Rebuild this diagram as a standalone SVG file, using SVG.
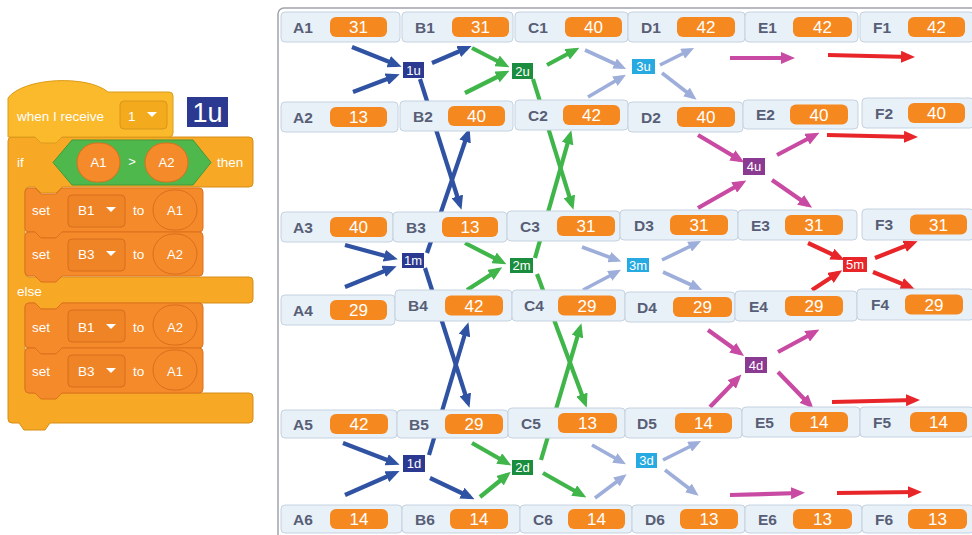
<svg xmlns="http://www.w3.org/2000/svg" width="972" height="535" viewBox="0 0 972 535">
<style>
  text { font-family: "Liberation Sans", Arial, sans-serif; }
  .cell { fill: #e8f0f8; stroke: #c6d2e0; stroke-width: 1; }
  .lbl { font-size: 15.5px; font-weight: bold; fill: #575e75; }
  .pill { fill: #f5891f; }
  .val { font-size: 17px; fill: #ffffff; text-anchor: middle; }
  .ln { fill: none; stroke-width: 4.2; stroke-linecap: butt; }
  .b { stroke: #2f52a3; marker-end: url(#ah-b); }
  .g { stroke: #3fb54a; marker-end: url(#ah-g); }
  .lb { stroke: #9eaedb; stroke-width: 3.6; marker-end: url(#ah-lb); }
  .m { stroke: #c84aa2; marker-end: url(#ah-m); }
  .r { stroke: #e8262a; marker-end: url(#ah-r); }
  .tag { font-size: 13px; fill: #ffffff; text-anchor: middle; }
  .blk { font-size: 13.5px; fill: #ffffff; }
  .hat { fill: #fbb92c; stroke: #dc9c1b; stroke-width: 1; }
  .ctl { fill: #f7a824; stroke: #d88d18; stroke-width: 1; }
  .var { fill: #f58a2a; stroke: #dc701c; stroke-width: 1; }
  .dd { fill: #ef8426; stroke: #d66e1d; stroke-width: 1; }
  .ov { fill: #f58a2a; stroke: #da6f1d; stroke-width: 1; }
</style>
<defs>
  <marker id="ah-b" viewBox="0 0 14 12" markerWidth="14" markerHeight="12" refX="9" refY="6" orient="auto" markerUnits="userSpaceOnUse"><path d="M0,0 L14,6 L0,12 Z" fill="#2f52a3"/></marker>
  <marker id="ah-g" viewBox="0 0 14 12" markerWidth="14" markerHeight="12" refX="9" refY="6" orient="auto" markerUnits="userSpaceOnUse"><path d="M0,0 L14,6 L0,12 Z" fill="#3fb54a"/></marker>
  <marker id="ah-lb" viewBox="0 0 14 12" markerWidth="13" markerHeight="11" refX="9" refY="6" orient="auto" markerUnits="userSpaceOnUse"><path d="M0,0 L14,6 L0,12 Z" fill="#9eaedb"/></marker>
  <marker id="ah-m" viewBox="0 0 14 12" markerWidth="14" markerHeight="12" refX="9" refY="6" orient="auto" markerUnits="userSpaceOnUse"><path d="M0,0 L14,6 L0,12 Z" fill="#c84aa2"/></marker>
  <marker id="ah-r" viewBox="0 0 14 12" markerWidth="14" markerHeight="12" refX="9" refY="6" orient="auto" markerUnits="userSpaceOnUse"><path d="M0,0 L14,6 L0,12 Z" fill="#e8262a"/></marker>
</defs>
<rect width="972" height="535" fill="#ffffff"/>

<!-- Scratch script -->
<g id="script">
  <!-- if / else C-block -->
  <path class="ctl" d="M8,141 Q8,137 12,137 L249,137 Q253,137 253,141 L253,183 Q253,187 249,187 L62,187 L56,193 L41,193 L35,187 L29,187 Q25,187 25,191 L25,273 Q25,277 29,277 L249,277 Q253,277 253,281 L253,299 Q253,303 249,303 L62,303 L56,309 L41,309 L35,303 L29,303 Q25,303 25,307 L25,389 Q25,393 29,393 L249,393 Q253,393 253,397 L253,419 Q253,423 249,423 L50,423 L45,430 L24,430 L19,423 L12,423 Q8,423 8,419 Z"/>
  <!-- hat block -->
  <g id="hat">
    <path class="hat" d="M8,137 L8,98 C24,77 88,75 108,92 L169,92 Q173,92 173,96 L173,133 Q173,137 169,137 L62,137 L56,143 L41,143 L35,137 Z"/>
    <text class="blk" x="17" y="121">when I receive</text>
    <rect x="120" y="101" width="47" height="28" rx="4" fill="#f3ab1d" stroke="#d9961b"/>
    <text class="blk" x="128" y="121">1</text>
    <path d="M147,112 L157,112 L152,117 Z" fill="#ffffff"/>
  </g>
  <g id="tag-1u-big">
    <rect x="187" y="97" width="41" height="30" fill="#2b3990"/>
    <text x="207.5" y="122" font-size="27" fill="#ffffff" text-anchor="middle">1u</text>
  </g>
  <!-- if header -->
  <text class="blk" x="17" y="167">if</text>
  <path d="M53,162.5 L72,140 L193,140 L211,162.5 L193,185 L72,185 Z" fill="#4fb84d" stroke="#3e9a3c"/>
  <rect class="ov" x="77" y="143" width="43" height="39" rx="19.5"/>
  <text class="tag" x="98.5" y="167" font-size="13.5">A1</text>
  <text class="tag" x="132" y="166" font-size="12">&gt;</text>
  <rect class="ov" x="145" y="143" width="43" height="39" rx="19.5"/>
  <text class="tag" x="166.5" y="167" font-size="13.5">A2</text>
  <text class="blk" x="217" y="167">then</text>
  <text class="blk" x="17" y="296">else</text>

  <!-- set B1 to A1 -->
  <g id="set1">
    <path class="var" d="M25,192 Q25,188 29,188 L35,188 L41,194 L56,194 L62,188 L199,188 Q203,188 203,192 L203,228 Q203,232 199,232 L62,232 L56,238 L41,238 L35,232 L29,232 Q25,232 25,228 Z"/>
    <text class="blk" x="32" y="215">set</text>
    <rect class="dd" x="68" y="195" width="57" height="32" rx="4"/>
    <text class="blk" x="78" y="215" font-size="14">B1</text>
    <path d="M106,207 L116,207 L111,212 Z" fill="#ffffff"/>
    <text class="blk" x="133" y="215">to</text>
    <rect class="ov" x="153" y="190" width="44" height="40" rx="20"/>
    <text class="tag" x="175" y="215" font-size="14">A1</text>
  </g>
  <!-- set B3 to A2 -->
  <g id="set2">
    <path class="var" d="M25,236 Q25,232 29,232 L35,232 L41,238 L56,238 L62,232 L199,232 Q203,232 203,236 L203,272 Q203,276 199,276 L62,276 L56,282 L41,282 L35,276 L29,276 Q25,276 25,272 Z"/>
    <text class="blk" x="32" y="259">set</text>
    <rect class="dd" x="68" y="239" width="57" height="32" rx="4"/>
    <text class="blk" x="78" y="259" font-size="14">B3</text>
    <path d="M106,251 L116,251 L111,256 Z" fill="#ffffff"/>
    <text class="blk" x="133" y="259">to</text>
    <rect class="ov" x="153" y="234" width="44" height="40" rx="20"/>
    <text class="tag" x="175" y="259" font-size="14">A2</text>
  </g>
  <!-- set B1 to A2 -->
  <g id="set3">
    <path class="var" d="M25,307 Q25,303 29,303 L35,303 L41,309 L56,309 L62,303 L199,303 Q203,303 203,307 L203,344 Q203,348 199,348 L62,348 L56,354 L41,354 L35,348 L29,348 Q25,348 25,344 Z"/>
    <text class="blk" x="32" y="332">set</text>
    <rect class="dd" x="68" y="310" width="57" height="32" rx="4"/>
    <text class="blk" x="78" y="332" font-size="14">B1</text>
    <path d="M106,324 L116,324 L111,329 Z" fill="#ffffff"/>
    <text class="blk" x="133" y="332">to</text>
    <rect class="ov" x="153" y="305" width="44" height="40" rx="20"/>
    <text class="tag" x="175" y="332" font-size="14">A2</text>
  </g>
  <!-- set B3 to A1 -->
  <g id="set4">
    <path class="var" d="M25,352 Q25,348 29,348 L35,348 L41,354 L56,354 L62,348 L199,348 Q203,348 203,352 L203,389 Q203,393 199,393 L62,393 L56,399 L41,399 L35,393 L29,393 Q25,393 25,389 Z"/>
    <text class="blk" x="32" y="376">set</text>
    <rect class="dd" x="68" y="355" width="57" height="32" rx="4"/>
    <text class="blk" x="78" y="376" font-size="14">B3</text>
    <path d="M106,368 L116,368 L111,373 Z" fill="#ffffff"/>
    <text class="blk" x="133" y="376">to</text>
    <rect class="ov" x="153" y="350" width="44" height="40" rx="20"/>
    <text class="tag" x="175" y="376" font-size="14">A1</text>
  </g>
</g>

<!-- stage panel -->
<rect x="278" y="8" width="730" height="560" rx="6" fill="#ffffff" stroke="#a2a3ad" stroke-width="1.5"/>

<!-- connectors (drawn beneath the monitors) -->
<g id="connectors" class="ln">
  <!-- step 1 (blue) -->
  <line class="ln b" x1="352" y1="47" x2="397" y2="65"/>
  <line class="ln b" x1="353" y1="92" x2="395" y2="76"/>
  <line class="ln b" x1="432" y1="63" x2="467" y2="48"/>
  <line class="ln b" x1="420" y1="79" x2="460" y2="205"/>
  <line class="ln b" x1="427" y1="253" x2="468" y2="133"/>
  <line class="ln b" x1="345" y1="245" x2="393" y2="258"/>
  <line class="ln b" x1="345" y1="287" x2="392" y2="268"/>
  <line class="ln b" x1="425" y1="268" x2="468" y2="403"/>
  <line class="ln b" x1="429" y1="455" x2="467" y2="327"/>
  <line class="ln b" x1="343" y1="443" x2="395" y2="463"/>
  <line class="ln b" x1="345" y1="495" x2="395" y2="473"/>
  <line class="ln b" x1="430" y1="478" x2="470" y2="497"/>
  <!-- step 2 (green) -->
  <line class="ln g" x1="472" y1="48" x2="505" y2="65"/>
  <line class="ln g" x1="465" y1="93" x2="505" y2="73"/>
  <line class="ln g" x1="547" y1="65" x2="575" y2="50"/>
  <line class="ln g" x1="533" y1="79" x2="572" y2="205"/>
  <line class="ln g" x1="535" y1="258" x2="570" y2="135"/>
  <line class="ln g" x1="465" y1="243" x2="502" y2="262"/>
  <line class="ln g" x1="467" y1="290" x2="498" y2="270"/>
  <line class="ln g" x1="537" y1="274" x2="585" y2="403"/>
  <line class="ln g" x1="541" y1="460" x2="580" y2="328"/>
  <line class="ln g" x1="472" y1="443" x2="507" y2="463"/>
  <line class="ln g" x1="480" y1="497" x2="507" y2="475"/>
  <line class="ln g" x1="543" y1="473" x2="582" y2="495"/>
  <!-- step 3 (light blue) -->
  <line class="ln lb" x1="585" y1="50" x2="622" y2="67"/>
  <line class="ln lb" x1="588" y1="97" x2="622" y2="77"/>
  <line class="ln lb" x1="660" y1="65" x2="690" y2="50"/>
  <line class="ln lb" x1="662" y1="73" x2="693" y2="97"/>
  <line class="ln lb" x1="582" y1="247" x2="617" y2="260"/>
  <line class="ln lb" x1="583" y1="290" x2="617" y2="272"/>
  <line class="ln lb" x1="662" y1="260" x2="697" y2="243"/>
  <line class="ln lb" x1="663" y1="272" x2="698" y2="288"/>
  <line class="ln lb" x1="592" y1="445" x2="622" y2="462"/>
  <line class="ln lb" x1="595" y1="498" x2="623" y2="477"/>
  <line class="ln lb" x1="663" y1="460" x2="697" y2="443"/>
  <line class="ln lb" x1="665" y1="470" x2="695" y2="493"/>
  <!-- step 4 (magenta) -->
  <line class="ln m" x1="730" y1="58" x2="790" y2="58"/>
  <line class="ln m" x1="698" y1="135" x2="740" y2="160"/>
  <line class="ln m" x1="698" y1="208" x2="742" y2="183"/>
  <line class="ln m" x1="777" y1="155" x2="815" y2="135"/>
  <line class="ln m" x1="772" y1="180" x2="808" y2="205"/>
  <line class="ln m" x1="708" y1="330" x2="740" y2="353"/>
  <line class="ln m" x1="710" y1="407" x2="738" y2="378"/>
  <line class="ln m" x1="778" y1="352" x2="815" y2="332"/>
  <line class="ln m" x1="778" y1="372" x2="810" y2="405"/>
  <line class="ln m" x1="730" y1="495" x2="800" y2="493"/>
  <!-- step 5 (red) -->
  <line class="ln r" x1="828" y1="55" x2="910" y2="57"/>
  <line class="ln r" x1="827" y1="135" x2="913" y2="137"/>
  <line class="ln r" x1="808" y1="243" x2="840" y2="258"/>
  <line class="ln r" x1="812" y1="290" x2="838" y2="273"/>
  <line class="ln r" x1="875" y1="258" x2="913" y2="243"/>
  <line class="ln r" x1="873" y1="272" x2="910" y2="287"/>
  <line class="ln r" x1="832" y1="402" x2="915" y2="400"/>
  <line class="ln r" x1="837" y1="493" x2="917" y2="492"/>
</g>

<!-- variable monitors -->
<g id="A1"><rect class="cell" x="281" y="12" width="119" height="30" rx="4"/><text class="lbl" x="293" y="32.5">A1</text><rect class="pill" x="330" y="17" width="57" height="20" rx="6"/><text class="val" x="358.5" y="33">31</text></g>
<g id="B1"><rect class="cell" x="402" y="12" width="111" height="30" rx="4"/><text class="lbl" x="415" y="32.5">B1</text><rect class="pill" x="452" y="17" width="57" height="20" rx="6"/><text class="val" x="480.5" y="33">31</text></g>
<g id="C1"><rect class="cell" x="515" y="12" width="113" height="30" rx="4"/><text class="lbl" x="528" y="32.5">C1</text><rect class="pill" x="565" y="17" width="57" height="20" rx="6"/><text class="val" x="593.5" y="33">40</text></g>
<g id="D1"><rect class="cell" x="628" y="12" width="117" height="30" rx="4"/><text class="lbl" x="641" y="32.5">D1</text><rect class="pill" x="677" y="17" width="58" height="20" rx="6"/><text class="val" x="706" y="33">42</text></g>
<g id="E1"><rect class="cell" x="745" y="12" width="113" height="30" rx="4"/><text class="lbl" x="758" y="32.5">E1</text><rect class="pill" x="793" y="17" width="59" height="20" rx="6"/><text class="val" x="822.5" y="33">42</text></g>
<g id="F1"><rect class="cell" x="860" y="12" width="114" height="30" rx="4"/><text class="lbl" x="873" y="32.5">F1</text><rect class="pill" x="908" y="17" width="57" height="20" rx="6"/><text class="val" x="936.5" y="33">42</text></g>

<g id="A2"><rect class="cell" x="281" y="102" width="117" height="30" rx="4"/><text class="lbl" x="293" y="122.5">A2</text><rect class="pill" x="330" y="107" width="57" height="20" rx="6"/><text class="val" x="358.5" y="123">13</text></g>
<g id="B2"><rect class="cell" x="400" y="101" width="113" height="30" rx="4"/><text class="lbl" x="413" y="121.5">B2</text><rect class="pill" x="448" y="106" width="57" height="20" rx="6"/><text class="val" x="476.5" y="122">40</text></g>
<g id="C2"><rect class="cell" x="515" y="100" width="113" height="30" rx="4"/><text class="lbl" x="528" y="120.5">C2</text><rect class="pill" x="563" y="105" width="57" height="20" rx="6"/><text class="val" x="591.5" y="121">42</text></g>
<g id="D2"><rect class="cell" x="628" y="102" width="115" height="30" rx="4"/><text class="lbl" x="641" y="122.5">D2</text><rect class="pill" x="677" y="107" width="58" height="20" rx="6"/><text class="val" x="706" y="123">40</text></g>
<g id="E2"><rect class="cell" x="743" y="100" width="115" height="29" rx="4"/><text class="lbl" x="756" y="120">E2</text><rect class="pill" x="790" y="104.5" width="58" height="20" rx="6"/><text class="val" x="819" y="120.5">40</text></g>
<g id="F2"><rect class="cell" x="862" y="98" width="112" height="30" rx="4"/><text class="lbl" x="875" y="118.5">F2</text><rect class="pill" x="908" y="103" width="57" height="20" rx="6"/><text class="val" x="936.5" y="119">40</text></g>

<g id="A3"><rect class="cell" x="281" y="212" width="112" height="30" rx="4"/><text class="lbl" x="293" y="232.5">A3</text><rect class="pill" x="330" y="217" width="57" height="20" rx="6"/><text class="val" x="358.5" y="233">40</text></g>
<g id="B3"><rect class="cell" x="393" y="212" width="114" height="30" rx="4"/><text class="lbl" x="406" y="232.5">B3</text><rect class="pill" x="442" y="217" width="56" height="20" rx="6"/><text class="val" x="470" y="233">13</text></g>
<g id="C3"><rect class="cell" x="507" y="211" width="113" height="30" rx="4"/><text class="lbl" x="520" y="231.5">C3</text><rect class="pill" x="557" y="216" width="58" height="20" rx="6"/><text class="val" x="586" y="232">31</text></g>
<g id="D3"><rect class="cell" x="620" y="210" width="118" height="30" rx="4"/><text class="lbl" x="634" y="230.5">D3</text><rect class="pill" x="670" y="215" width="58" height="20" rx="6"/><text class="val" x="699" y="231">31</text></g>
<g id="E3"><rect class="cell" x="738" y="210" width="119" height="30" rx="4"/><text class="lbl" x="751" y="230.5">E3</text><rect class="pill" x="785" y="215" width="58" height="20" rx="6"/><text class="val" x="814" y="231">31</text></g>
<g id="F3"><rect class="cell" x="862" y="209" width="112" height="31" rx="4"/><text class="lbl" x="875" y="230">F3</text><rect class="pill" x="910" y="214.5" width="57" height="20" rx="6"/><text class="val" x="938.5" y="230.5">31</text></g>

<g id="A4"><rect class="cell" x="281" y="295" width="114" height="30" rx="4"/><text class="lbl" x="293" y="315.5">A4</text><rect class="pill" x="330" y="300" width="57" height="20" rx="6"/><text class="val" x="358.5" y="316">29</text></g>
<g id="B4"><rect class="cell" x="395" y="290" width="117" height="31" rx="4"/><text class="lbl" x="408" y="311">B4</text><rect class="pill" x="445" y="295.5" width="58" height="20" rx="6"/><text class="val" x="474" y="311.5">42</text></g>
<g id="C4"><rect class="cell" x="512" y="290" width="113" height="31" rx="4"/><text class="lbl" x="524" y="311">C4</text><rect class="pill" x="558" y="295.5" width="58" height="20" rx="6"/><text class="val" x="587" y="311.5">29</text></g>
<g id="D4"><rect class="cell" x="625" y="292" width="110" height="30" rx="4"/><text class="lbl" x="637" y="312.5">D4</text><rect class="pill" x="673" y="297" width="59" height="20" rx="6"/><text class="val" x="702.5" y="313">29</text></g>
<g id="E4"><rect class="cell" x="735" y="291" width="122" height="30" rx="4"/><text class="lbl" x="749" y="311.5">E4</text><rect class="pill" x="785" y="296" width="58" height="20" rx="6"/><text class="val" x="814" y="312">29</text></g>
<g id="F4"><rect class="cell" x="857" y="289" width="117" height="31" rx="4"/><text class="lbl" x="871" y="310">F4</text><rect class="pill" x="905" y="294.5" width="58" height="20" rx="6"/><text class="val" x="934" y="310.5">29</text></g>

<g id="A5"><rect class="cell" x="281" y="410" width="116" height="28" rx="4"/><text class="lbl" x="293" y="429.5">A5</text><rect class="pill" x="330" y="414" width="58" height="20" rx="6"/><text class="val" x="359" y="430">42</text></g>
<g id="B5"><rect class="cell" x="397" y="410" width="111" height="28" rx="4"/><text class="lbl" x="409" y="429.5">B5</text><rect class="pill" x="445" y="414" width="58" height="20" rx="6"/><text class="val" x="474" y="430">29</text></g>
<g id="C5"><rect class="cell" x="508" y="408" width="117" height="30" rx="4"/><text class="lbl" x="521" y="428.5">C5</text><rect class="pill" x="558" y="413" width="59" height="20" rx="6"/><text class="val" x="587.5" y="429">13</text></g>
<g id="D5"><rect class="cell" x="625" y="408" width="117" height="30" rx="4"/><text class="lbl" x="637" y="428.5">D5</text><rect class="pill" x="675" y="413" width="57" height="20" rx="6"/><text class="val" x="703.5" y="429">14</text></g>
<g id="E5"><rect class="cell" x="742" y="407" width="118" height="30" rx="4"/><text class="lbl" x="755" y="427.5">E5</text><rect class="pill" x="790" y="412" width="58" height="20" rx="6"/><text class="val" x="819" y="428">14</text></g>
<g id="F5"><rect class="cell" x="860" y="407" width="114" height="30" rx="4"/><text class="lbl" x="873" y="427.5">F5</text><rect class="pill" x="910" y="412" width="57" height="20" rx="6"/><text class="val" x="938.5" y="428">14</text></g>

<g id="A6"><rect class="cell" x="281" y="505" width="121" height="28" rx="4"/><text class="lbl" x="293" y="524.5">A6</text><rect class="pill" x="330" y="509" width="58" height="20" rx="6"/><text class="val" x="359" y="525">14</text></g>
<g id="B6"><rect class="cell" x="402" y="505" width="118" height="28" rx="4"/><text class="lbl" x="415" y="524.5">B6</text><rect class="pill" x="450" y="509" width="58" height="20" rx="6"/><text class="val" x="479" y="525">14</text></g>
<g id="C6"><rect class="cell" x="520" y="505" width="112" height="28" rx="4"/><text class="lbl" x="533" y="524.5">C6</text><rect class="pill" x="568" y="509" width="57" height="20" rx="6"/><text class="val" x="596.5" y="525">14</text></g>
<g id="D6"><rect class="cell" x="632" y="505" width="113" height="28" rx="4"/><text class="lbl" x="645" y="524.5">D6</text><rect class="pill" x="680" y="509" width="58" height="20" rx="6"/><text class="val" x="709" y="525">13</text></g>
<g id="E6"><rect class="cell" x="745" y="505" width="117" height="28" rx="4"/><text class="lbl" x="758" y="524.5">E6</text><rect class="pill" x="793" y="509" width="59" height="20" rx="6"/><text class="val" x="822.5" y="525">13</text></g>
<g id="F6"><rect class="cell" x="862" y="505" width="112" height="28" rx="4"/><text class="lbl" x="875" y="524.5">F6</text><rect class="pill" x="908" y="509" width="59" height="20" rx="6"/><text class="val" x="937.5" y="525">13</text></g>

<!-- step tags -->
<g id="tag-1u"><rect x="403" y="62" width="21" height="16" fill="#2b3990"/><text class="tag" x="413.5" y="74.5">1u</text></g>
<g id="tag-2u"><rect x="512" y="63" width="21" height="16" fill="#1a8d3e"/><text class="tag" x="522.5" y="75.5">2u</text></g>
<g id="tag-3u"><rect x="632" y="59" width="23" height="15" fill="#27aae1"/><text class="tag" x="643.5" y="71">3u</text></g>
<g id="tag-4u"><rect x="743" y="158" width="22" height="17" fill="#8b3a92"/><text class="tag" x="754" y="171">4u</text></g>
<g id="tag-1m"><rect x="402" y="253" width="22" height="15" fill="#2b3990"/><text class="tag" x="413" y="265">1m</text></g>
<g id="tag-2m"><rect x="510" y="258" width="23" height="15" fill="#1a8d3e"/><text class="tag" x="521.5" y="270">2m</text></g>
<g id="tag-3m"><rect x="627" y="258" width="22" height="14" fill="#27aae1"/><text class="tag" x="638" y="269.5">3m</text></g>
<g id="tag-5m"><rect x="843" y="257" width="24" height="15" fill="#e8262a"/><text class="tag" x="855" y="269">5m</text></g>
<g id="tag-4d"><rect x="745" y="357" width="22" height="16" fill="#8b3a92"/><text class="tag" x="756" y="369.5">4d</text></g>
<g id="tag-1d"><rect x="403" y="455" width="22" height="17" fill="#2b3990"/><text class="tag" x="414" y="468">1d</text></g>
<g id="tag-2d"><rect x="512" y="460" width="21" height="15" fill="#1a8d3e"/><text class="tag" x="522.5" y="472">2d</text></g>
<g id="tag-3d"><rect x="636" y="453" width="21" height="15" fill="#27aae1"/><text class="tag" x="646.5" y="465">3d</text></g>
</svg>
